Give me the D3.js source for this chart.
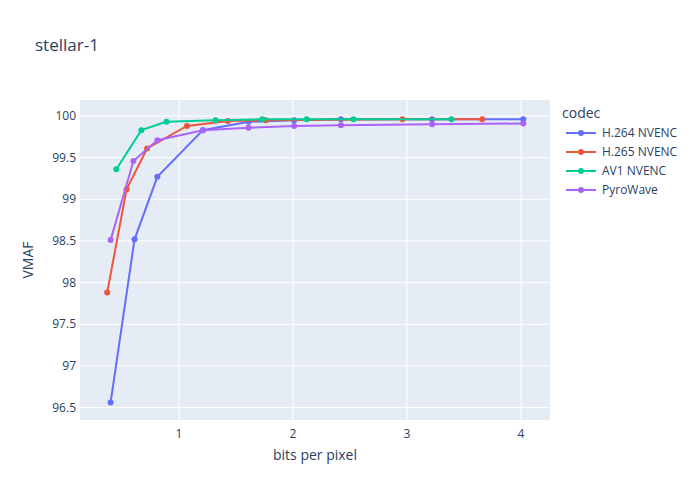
<!DOCTYPE html><html><head><script src="https://cdn.jsdelivr.net/npm/d3@7"></script>
<style>body{margin:0}text{font-family:"Open Sans",Arial,sans-serif}</style></head><body><svg id="c" width="700" height="500"></svg>
<script>
const seriesNames=["H.264 NVENC","H.265 NVENC","AV1 NVENC","PyroWave"];
const colors=["#636efa","#EF553B","#00cc96","#ab63fa"];
const h264X=[0.40,0.61,0.81,1.21,1.61,2.01,2.42,3.22,4.02];
const h264Y=[96.56,98.52,99.27,99.83,99.93,99.95,99.96,99.96,99.96];
const h265X=[0.37,0.54,0.72,1.07,1.43,1.76,2.96,3.66];
const h265Y=[97.88,99.12,99.61,99.88,99.94,99.95,99.96,99.96];
const av1X=[0.45,0.67,0.89,1.32,1.73,2.12,2.53,3.39];
const av1Y=[99.36,99.83,99.93,99.95,99.96,99.96,99.96,99.96];
const pyroX=[0.40,0.60,0.81,1.21,1.61,2.01,2.42,3.22,4.02];
const pyroY=[98.51,99.46,99.71,99.83,99.86,99.88,99.89,99.90,99.91];
const xTicks=[1,2,3,4];
const yTicks=[96.5,97,97.5,98,98.5,99,99.5,100];
const data=[[h264X,h264Y],[h265X,h265Y],[av1X,av1Y],[pyroX,pyroY]];
const svg=d3.select("#c");
svg.append("rect").attr("width",700).attr("height",500).attr("fill","#fff");
const L=80,R=550,T=100,B=420;
const x=d3.scaleLinear().domain([(80-65)/114,(550-65)/114]).range([L,R]);
const y=d3.scaleLinear().domain([100-(420-116)/83.3,100+16/83.3]).range([B,T]);
svg.append("rect").attr("x",L).attr("y",T).attr("width",R-L).attr("height",B-T).attr("fill","#E5ECF6");
const g=svg.append("g");
xTicks.forEach(t=>{g.append("line").attr("x1",x(t)).attr("x2",x(t)).attr("y1",T).attr("y2",B).attr("stroke","#fff");
 g.append("text").attr("x",x(t)).attr("y",B+18).attr("text-anchor","middle").attr("font-size",12).attr("fill","#2a3f5f").text(t);});
yTicks.forEach(t=>{g.append("line").attr("x1",L).attr("x2",R).attr("y1",y(t)).attr("y2",y(t)).attr("stroke","#fff");
 g.append("text").attr("x",L-4).attr("y",y(t)+4).attr("text-anchor","end").attr("font-size",12).attr("fill","#2a3f5f").text(t);});
const line=d3.line().x(d=>x(d[0])).y(d=>y(d[1]));
data.forEach((s,i)=>{const pts=s[0].map((v,j)=>[v,s[1][j]]);
 svg.append("path").attr("d",line(pts)).attr("fill","none").attr("stroke",colors[i]).attr("stroke-width",2);
 svg.selectAll(null).data(pts).enter().append("circle").attr("cx",d=>x(d[0])).attr("cy",d=>y(d[1])).attr("r",3).attr("fill",colors[i]);});
svg.append("text").attr("x",35).attr("y",51).attr("font-size",17).attr("fill","#2a3f5f").text("stellar-1");
svg.append("text").attr("x",(L+R)/2).attr("y",460).attr("text-anchor","middle").attr("font-size",14).attr("fill","#2a3f5f").text("bits per pixel");
svg.append("text").attr("transform",`translate(33,${(T+B)/2}) rotate(-90)`).attr("text-anchor","middle").attr("font-size",14).attr("fill","#2a3f5f").text("VMAF");
svg.append("text").attr("x",562).attr("y",118).attr("font-size",14).attr("fill","#2a3f5f").text("codec");
seriesNames.forEach((n,i)=>{const yy=133+i*19;
 svg.append("line").attr("x1",566).attr("x2",596).attr("y1",yy).attr("y2",yy).attr("stroke",colors[i]).attr("stroke-width",2);
 svg.append("circle").attr("cx",581).attr("cy",yy).attr("r",3).attr("fill",colors[i]);
 svg.append("text").attr("x",602).attr("y",yy+4).attr("font-size",12).attr("fill","#2a3f5f").text(n);});
</script></body></html>
